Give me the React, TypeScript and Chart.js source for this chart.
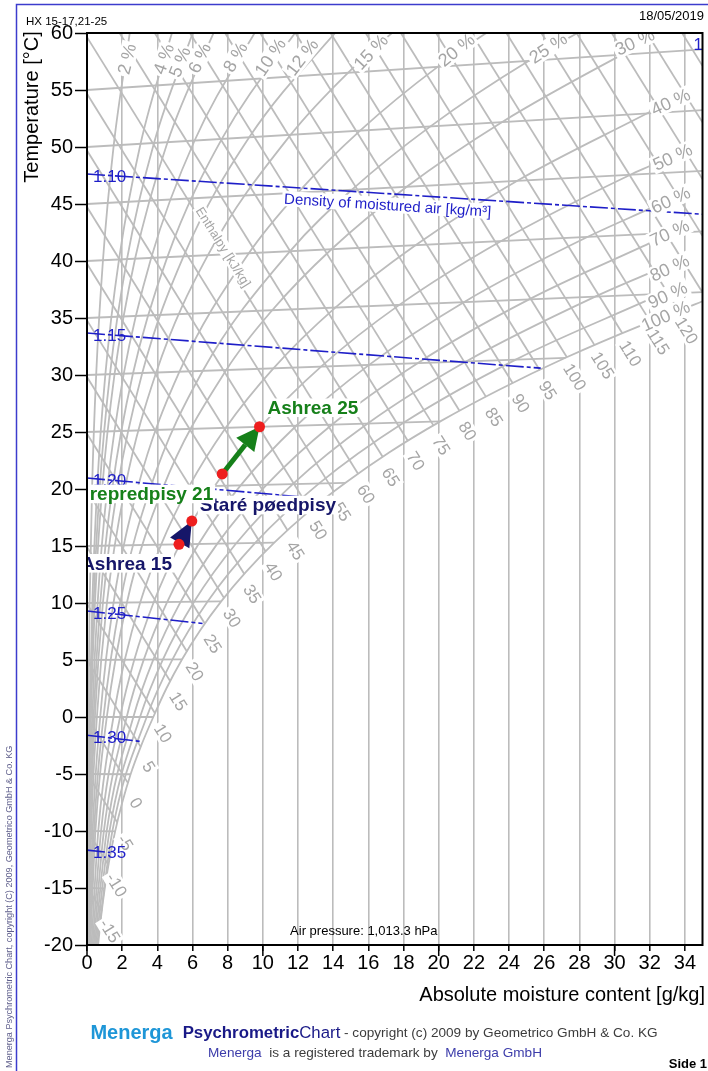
import { useEffect, useRef } from "react";
import { Chart, registerables } from "chart.js";

Chart.register(...registerables);

const FONT = "'Liberation Sans', Arial, Helvetica, sans-serif";
const GRAY = "rgb(188,188,188)";
const LABEL_GRAY = "rgb(165,165,165)";
const BLUE = "rgb(30,30,200)";
const GREEN = "rgb(22,128,26)";
const NAVY = "rgb(22,22,105)";
const RED = "rgb(238,30,30)";

// ---- axes ----
const X_TICKS = [0, 2, 4, 6, 8, 10, 12, 14, 16, 18, 20, 22, 24, 26, 28, 30, 32, 34];
const X_MAJOR_TICKS = [0, 10, 20, 30];
const Y_TICKS = [-20, -15, -10, -5, 0, 5, 10, 15, 20, 25, 30, 35, 40, 45, 50, 55, 60];

// ---- relative humidity curves: [x g/kg, y chart °C] ----
const RH_2 = [[0.013, -20], [0.032, -10], [0.075, 0], [0.151, 10], [0.287, 20.01], [0.522, 30.03], [0.908, 40.07], [1.519, 50.14], [2.456, 60.27]];
const RH_4 = [[0.025, -20], [0.064, -10], [0.15, 0], [0.302, 10.01], [0.575, 20.02], [1.044, 30.06], [1.819, 40.13], [3.045, 50.28], [4.933, 60.55]];
const RH_5 = [[0.032, -20], [0.08, -10], [0.188, 0], [0.377, 10.01], [0.719, 20.03], [1.306, 30.07], [2.275, 40.17], [3.811, 50.35], [6.178, 60.69]];
const RH_6 = [[0.038, -20], [0.096, -10], [0.225, 0], [0.453, 10.01], [0.863, 20.03], [1.568, 30.09], [2.732, 40.2], [4.579, 50.42], [7.428, 60.82]];
const RH_8 = [[0.051, -20], [0.128, -10], [0.3, 0], [0.604, 10.01], [1.151, 20.04], [2.092, 30.12], [3.648, 40.27], [6.12, 50.57], [9.944, 61.1]];
const RH_10 = [[0.063, -20], [0.16, -10], [0.375, 0], [0.755, 10.01], [1.439, 20.05], [2.617, 30.15], [4.567, 40.34], [7.669, 50.71], [12.48, 61.39]];
const RH_12 = [[0.076, -20], [0.192, -10], [0.45, 0], [0.906, 10.02], [1.728, 20.06], [3.143, 30.17], [5.488, 40.41], [9.225, 50.85], [15.04, 61.67]];
const RH_15 = [[0.095, -20], [0.239, -10], [0.563, 0], [1.133, 10.02], [2.161, 20.08], [3.934, 30.22], [6.875, 40.51], [11.58, 51.07], [14.84, 56.51], [18.91, 62.1]];
const RH_20 = [[0.126, -20], [0.319, -10.01], [0.751, 0], [1.511, 10.03], [2.885, 20.11], [5.257, 30.29], [9.201, 40.68], [12.0, 46.0], [15.53, 51.44], [19.94, 57.03], [25.47, 62.83]];
const RH_25 = [[0.158, -20.01], [0.399, -10.01], [0.939, 0], [1.89, 10.03], [3.611, 20.13], [6.585, 30.37], [11.54, 40.85], [15.07, 46.26], [19.53, 51.81], [25.13, 57.56], [32.17, 63.57]];
const RH_30 = [[0.19, -20.01], [0.479, -10.01], [1.127, 0], [2.27, 10.04], [4.338, 20.16], [7.919, 30.44], [10.53, 35.68], [13.9, 41.03], [18.18, 46.51], [23.59, 52.18], [30.41, 58.09], [32.0, 59.33]];
const RH_40 = [[0.253, -20.01], [0.639, -10.01], [1.504, 0], [2.149, 5.02], [3.03, 10.06], [4.215, 15.12], [5.797, 20.21], [7.88, 25.36], [10.6, 30.59], [14.12, 35.91], [18.68, 41.38], [24.47, 47.04], [32.0, 53.07]];
const RH_50 = [[0.316, -20.01], [0.799, -10.01], [1.881, 0], [2.688, 5.02], [3.792, 10.07], [5.278, 15.15], [7.263, 20.27], [9.881, 25.46], [13.31, 30.74], [17.76, 36.15], [23.53, 41.74], [30.9, 47.57], [32.0, 48.33]];
const RH_60 = [[0.38, -20.01], [0.959, -10.02], [2.258, 0], [3.228, 5.03], [4.556, 10.08], [6.344, 15.18], [8.736, 20.32], [11.9, 25.55], [16.04, 30.89], [21.43, 36.39], [28.45, 42.1], [32.0, 44.59]];
const RH_70 = [[0.443, -20.02], [1.119, -10.02], [2.636, 0], [3.77, 5.03], [5.322, 10.1], [7.414, 15.21], [10.22, 20.38], [13.92, 25.64], [18.8, 31.04], [25.14, 36.63], [32.0, 41.57]];
const RH_80 = [[0.506, -20.02], [1.279, -10.02], [3.015, 0], [4.312, 5.04], [6.09, 10.11], [8.487, 15.24], [11.7, 20.43], [15.96, 25.74], [21.58, 31.2], [28.9, 36.87], [32.0, 38.96]];
const RH_90 = [[0.57, -20.02], [1.44, -10.03], [3.394, 0], [4.855, 5.04], [6.859, 10.13], [9.565, 15.27], [13.2, 20.49], [18.02, 25.83], [24.38, 31.35], [32.0, 36.65]];
// saturation curve (100 %)
const RH_100 = [[0.63, -20.02], [0.8, -17.53], [1.01, -15.03], [1.27, -12.53], [1.6, -10.03], [2.0, -7.53], [2.48, -5.02], [3.08, -2.51], [3.77, 0], [4.52, 2.52], [5.4, 5.05], [6.43, 7.59], [7.63, 10.14], [9.03, 12.71], [10.65, 15.3], [12.52, 17.91], [14.7, 20.54], [17.2, 23.22], [20.09, 25.93], [23.41, 28.69], [27.21, 31.51], [31.59, 34.4], [33.58, 35.58], [35.0, 36.47]];

const RH_CURVES = [RH_2, RH_4, RH_5, RH_6, RH_8, RH_10, RH_12, RH_15, RH_20, RH_25, RH_30, RH_40, RH_50, RH_60, RH_70, RH_80, RH_90, RH_100];

// RH labels
const RH_LABELS = ["2 %", "4 %", "5 %", "6 %", "8 %", "10 %", "12 %", "15 %", "20 %", "25 %", "30 %", "40 %", "50 %", "60 %", "70 %", "80 %", "90 %", "100 %"];
const RH_LABEL_X = [2.27, 4.36, 5.27, 6.4, 8.44, 10.42, 12.23, 16.14, 21.01, 26.22, 31.15, 33.19, 33.3, 33.19, 33.13, 33.13, 33.02, 32.9];
const RH_LABEL_Y = [57.72, 57.72, 57.46, 57.81, 57.89, 57.89, 57.89, 58.33, 58.51, 58.68, 59.21, 53.95, 49.12, 45.35, 42.46, 39.39, 37.02, 35.18];
const RH_LABEL_ANGLE = [-76, -70, -68, -65, -60, -56, -52, -47, -39, -33, -25, -25, -25, -25, -25, -25, -25, -24];

// ---- isotherms: start at (0, T), end at saturation or right edge ----
const ISO_T = [-20, -15, -10, -5, 0, 5, 10, 15, 20, 25, 30, 35, 40, 45, 50, 55];
const ISO_END_X = [0.63, 1.01, 1.6, 2.48, 3.77, 5.4, 7.63, 10.65, 14.7, 20.09, 27.21, 35, 35, 35, 35, 35];
const ISO_END_Y = [-20.02, -15.03, -10.03, -5.02, 0, 5.05, 10.14, 15.3, 20.54, 25.93, 31.51, 37.27, 42.59, 47.91, 53.24, 58.56];

// ---- enthalpy lines [kJ/kg] ----
const ENTH_H = [-15, -10, -5, 0, 5, 10, 15, 20, 25, 30, 35, 40, 45, 50, 55, 60, 65, 70, 75, 80, 85, 90, 95, 100, 105, 110, 115, 120, 125, 130, 135, 140, 145];
const ENTH_X0 = [0, 0, 0, 0, 0, 0, 0, 0, 0, 0, 0, 0, 0, 0, 0, 0, 1.854, 3.854, 5.853, 7.852, 9.851, 11.85, 13.85, 15.85, 17.85, 19.85, 21.85, 23.85, 25.84, 27.84, 29.84, 31.84, 33.84];
const ENTH_Y0 = [-14.91, -9.94, -4.97, 0, 4.97, 9.94, 14.91, 19.88, 24.85, 29.82, 34.79, 39.76, 44.73, 49.7, 54.67, 59.64, 60, 60, 60, 60, 60, 60, 60, 60, 60, 60, 60, 60, 60, 60, 60, 60, 60];
const ENTH_X1 = [0.843, 1.223, 1.724, 2.332, 3.055, 3.867, 4.735, 5.683, 6.706, 7.794, 8.945, 10.16, 11.41, 12.7, 14.05, 15.42, 16.82, 18.25, 19.7, 21.19, 22.69, 24.21, 25.75, 27.28, 28.87, 30.45, 32.04, 33.64, 35, 35, 35, 35, 35];
const ENTH_Y1 = [-17.01, -12.98, -9.26, -5.8, -2.62, 0.33, 3.14, 5.75, 8.18, 10.44, 12.55, 14.51, 16.36, 18.13, 19.75, 21.31, 22.81, 24.21, 25.58, 26.84, 28.08, 29.27, 30.42, 31.58, 32.6, 33.64, 34.66, 35.65, 37.24, 42.21, 47.18, 52.16, 57.12];
const ENTH_LABEL_MAX = 120;

// ---- density lines [kg/m³] ----
const DENS_LABELS = ["1.10", "1.15", "1.20", "1.25", "1.30", "1.35"];
const DENS_X0 = [0, 0, 0, 0, 0, 0];
const DENS_Y0 = [47.63, 33.68, 20.96, 9.3, -1.6, -11.68];
const DENS_X1 = [35, 25.8, 13.3, 6.57, 3.13, 1.33];
const DENS_Y1 = [44.1, 30.6, 19.16, 8.2, -2.16, -11.89];

// ---- process points (state points) ----
const POINT_NAMES = ["Ashrea 15", "Staré pøedpisy", "repredpisy 21", "Ashrea 25"];
const POINT_X = [5.23, 5.96, 7.69, 9.81];
const POINT_Y = [15.15, 17.19, 21.32, 25.46];

function boxText(ctx: any, text: string, x: number, y: number, angle: number, font: string, size: number, color: string, align: string, bg: boolean) {
  ctx.save();
  ctx.translate(x, y);
  ctx.rotate((angle * Math.PI) / 180);
  ctx.font = font;
  const w = ctx.measureText(text).width;
  const h = size * 0.82;
  const x0 = align === "center" ? -w / 2 : align === "left" ? 0 : -w;
  if (bg) {
    ctx.fillStyle = "#fff";
    ctx.fillRect(x0 - 2, -h / 2 - 1.5, w + 4, h + 3);
  }
  ctx.fillStyle = color;
  ctx.textAlign = align;
  ctx.textBaseline = "middle";
  ctx.fillText(text, 0, 1);
  ctx.restore();
}

function drawArrow(ctx: any, x1: number, y1: number, x2: number, y2: number, color: string, shaftW: number, headLen: number, headW: number) {
  const ang = Math.atan2(y2 - y1, x2 - x1);
  const len = Math.hypot(x2 - x1, y2 - y1);
  const hl = Math.min(headLen, len);
  const bx = x2 - hl * Math.cos(ang);
  const by = y2 - hl * Math.sin(ang);
  ctx.save();
  if (len > hl) {
    ctx.strokeStyle = color;
    ctx.lineWidth = shaftW;
    ctx.beginPath();
    ctx.moveTo(x1, y1);
    ctx.lineTo(bx, by);
    ctx.stroke();
  }
  ctx.fillStyle = color;
  ctx.beginPath();
  ctx.moveTo(x2, y2);
  ctx.lineTo(bx + (headW / 2) * Math.sin(ang), by - (headW / 2) * Math.cos(ang));
  ctx.lineTo(bx - (headW / 2) * Math.sin(ang), by + (headW / 2) * Math.cos(ang));
  ctx.closePath();
  ctx.fill();
  ctx.restore();
}

const overlayPlugin = {
  id: "overlay",
  beforeDatasetDraw(chart: any, args: any) {
    if (args.index !== 0) return;
    const ctx = chart.ctx;
    const xs = chart.scales.x;
    const ys = chart.scales.y;
    const ca = chart.chartArea;
    const P = (x: number, y: number) => [xs.getPixelForValue(x), ys.getPixelForValue(y)];
    ctx.save();
    ctx.beginPath();
    ctx.rect(ca.left, ca.top, ca.right - ca.left, ca.bottom - ca.top);
    ctx.clip();

    // enthalpy labels
    ENTH_H.forEach((h, i) => {
      if (h > ENTH_LABEL_MAX) return;
      const [px, py] = P(ENTH_X1[i], ENTH_Y1[i]);
      boxText(ctx, String(h), px + 8, py + 20, 58, `17px ${FONT}`, 17, LABEL_GRAY, "center", true);
    });
    // enthalpy axis label
    {
      const [px, py] = P(7.76, 41.23);
      boxText(ctx, "Enthalpy [kJ/kg]", px, py, 58, `13px ${FONT}`, 13, LABEL_GRAY, "center", true);
    }
    // RH labels
    RH_LABELS.forEach((t, i) => {
      const [px, py] = P(RH_LABEL_X[i], RH_LABEL_Y[i]);
      boxText(ctx, t, px, py, RH_LABEL_ANGLE[i], `18px ${FONT}`, 18, LABEL_GRAY, "center", true);
    });
    // density labels
    DENS_LABELS.forEach((t, i) => {
      const [px, py] = P(DENS_X0[i], DENS_Y0[i]);
      boxText(ctx, t, px + 6, py + 2, 0, `17px ${FONT}`, 17, BLUE, "left", false);
    });
    {
      const [px, py] = P(35, 59.9);
      boxText(ctx, "1.05", px - 9, py + 10, 0, `17px ${FONT}`, 17, BLUE, "left", false);
      const [qx, qy] = P(17.1, 44.91);
      boxText(ctx, "Density of moistured air [kg/m³]", qx, qy, 3.6, `15px ${FONT}`, 15, BLUE, "center", true);
    }
    // air pressure
    {
      const [px, py] = P(15.74, -18.68);
      boxText(ctx, "Air pressure: 1,013.3 hPa", px, py, 0, `13px ${FONT}`, 13, "#000", "center", false);
    }

    // process labels
    const pts = POINT_X.map((x, i) => P(x, POINT_Y[i]));
    const bold = `bold 19px ${FONT}`;
    boxText(ctx, POINT_NAMES[1], pts[1][0] + 8, pts[1][1] - 16, 0, bold, 19, NAVY, "left", true);
    boxText(ctx, POINT_NAMES[2], pts[2][0] - 9, pts[2][1] + 20, 0, bold, 19, GREEN, "right", true);
    boxText(ctx, POINT_NAMES[0], pts[0][0] - 7, pts[0][1] + 19, 0, bold, 19, NAVY, "right", true);
    boxText(ctx, POINT_NAMES[3], pts[3][0] + 8, pts[3][1] - 19, 0, bold, 19, GREEN, "left", true);

    // arrows
    drawArrow(ctx, pts[2][0], pts[2][1], pts[3][0], pts[3][1], GREEN, 5, 23, 23);
    drawArrow(ctx, pts[0][0], pts[0][1], pts[1][0], pts[1][1], NAVY, 5, 25, 22);
    ctx.restore();
  },
  afterDraw(chart: any) {
    const ctx = chart.ctx;
    const ca = chart.chartArea;
    const xs = chart.scales.x;
    ctx.save();
    // chart frame
    ctx.strokeStyle = "#000";
    ctx.lineWidth = 2;
    ctx.strokeRect(ca.left, ca.top, ca.right - ca.left, ca.bottom - ca.top);
    // longer major ticks on x axis
    ctx.lineWidth = 1.5;
    X_MAJOR_TICKS.forEach((v) => {
      const px = xs.getPixelForValue(v);
      ctx.beginPath();
      ctx.moveTo(px, ca.bottom);
      ctx.lineTo(px, ca.bottom + 11);
      ctx.stroke();
    });

    // page frame
    ctx.strokeStyle = "rgb(60,60,205)";
    ctx.lineWidth = 1.5;
    ctx.beginPath();
    ctx.moveTo(16.5, 1071);
    ctx.lineTo(16.5, 4.5);
    ctx.lineTo(708, 4.5);
    ctx.stroke();

    ctx.fillStyle = "#000";
    ctx.textBaseline = "middle";
    // header
    ctx.font = `11.5px ${FONT}`;
    ctx.textAlign = "left";
    ctx.fillText("HX 15-17,21-25", 26, 22);
    ctx.font = `13px ${FONT}`;
    ctx.textAlign = "right";
    ctx.fillText("18/05/2019", 704, 16);

    // axis titles
    ctx.font = `20px ${FONT}`;
    ctx.textAlign = "right";
    ctx.fillText("Absolute moisture content [g/kg]", 705, 995);
    ctx.save();
    ctx.translate(32, 107);
    ctx.rotate(-Math.PI / 2);
    ctx.font = `20px ${FONT}`;
    ctx.textAlign = "center";
    ctx.fillText("Temperature [°C]", 0, 0);
    ctx.restore();

    // left vertical copyright
    ctx.save();
    ctx.translate(9, 1068);
    ctx.rotate(-Math.PI / 2);
    ctx.font = `9.1px ${FONT}`;
    ctx.fillStyle = "rgb(95,95,140)";
    ctx.textAlign = "left";
    ctx.fillText("Menerga Psychrometric Chart, copyright (C) 2009, Geometrico GmbH & Co. KG", 0, 0);
    ctx.restore();

    // footer
    const drawRuns = (runs: any[], cx: number, y: number) => {
      let total = 0;
      const ws = runs.map((r) => {
        ctx.font = r[1];
        const w = ctx.measureText(r[0]).width + r[3];
        total += w;
        return w;
      });
      let x = cx - total / 2;
      ctx.textAlign = "left";
      runs.forEach((r, i) => {
        ctx.font = r[1];
        ctx.fillStyle = r[2];
        ctx.fillText(r[0], x, y);
        x += ws[i];
      });
    };
    const runs1 = [
      ["Menerga", `bold 20px ${FONT}`, "rgb(30,150,215)", 10],
      ["Psychrometric", `bold 16.8px ${FONT}`, "rgb(25,25,135)", 0],
      ["Chart", `16.8px ${FONT}`, "rgb(25,25,135)", 0],
      [" - copyright (c) 2009 by Geometrico GmbH & Co. KG", `13.6px ${FONT}`, "rgb(60,60,60)", 0],
    ];
    drawRuns(runs1, 374, 1033);
    const runs2 = [
      ["Menerga", `13.6px ${FONT}`, "rgb(60,60,170)", 0],
      ["  is a registered trademark by  ", `13.6px ${FONT}`, "rgb(60,60,60)", 0],
      ["Menerga GmbH", `13.6px ${FONT}`, "rgb(60,60,170)", 0],
    ];
    drawRuns(runs2, 375, 1053);
    ctx.font = `bold 13px ${FONT}`;
    ctx.fillStyle = "#000";
    ctx.textAlign = "right";
    ctx.fillText("Side 1", 707, 1064);
    ctx.restore();
  },
};

export default function App() {
  const ref = useRef<HTMLCanvasElement>(null);
  useEffect(() => {
    if (!ref.current) return;
    const line = (pts: number[][], color: string, width: number, extra: any = {}) => ({
      data: pts.map(([x, y]) => ({ x, y })),
      showLine: true,
      borderColor: color,
      borderWidth: width,
      pointRadius: 0,
      pointHoverRadius: 0,
      fill: false,
      ...extra,
    });
    const datasets: any[] = [];
    // state points (index 0 -> drawn on top)
    datasets.push({
      data: POINT_X.map((x, i) => ({ x, y: POINT_Y[i] })),
      showLine: false,
      pointRadius: 5.5,
      pointBackgroundColor: RED,
      pointBorderColor: RED,
      pointBorderWidth: 0,
      clip: false,
    });
    DENS_LABELS.forEach((_, i) => {
      datasets.push(line([[DENS_X0[i], DENS_Y0[i]], [DENS_X1[i], DENS_Y1[i]]], BLUE, 1.6, { borderDash: [18, 3, 4, 3] }));
    });
    RH_CURVES.forEach((c) => datasets.push(line(c, GRAY, 1.8, { cubicInterpolationMode: "monotone" })));
    ISO_T.forEach((t, i) => datasets.push(line([[0, t], [ISO_END_X[i], ISO_END_Y[i]]], GRAY, 1.8)));
    ENTH_H.forEach((_, i) => datasets.push(line([[ENTH_X0[i], ENTH_Y0[i]], [ENTH_X1[i], ENTH_Y1[i]]], GRAY, 1.8)));

    const chart = new Chart(ref.current, {
      type: "scatter",
      data: { datasets },
      plugins: [overlayPlugin],
      options: {
        animation: false,
        responsive: false,
        devicePixelRatio: 1,
        events: [],
        layout: { padding: { left: 0, top: 33, right: 3, bottom: 86 } },
        plugins: { legend: { display: false }, tooltip: { enabled: false }, title: { display: false } },
        scales: {
          x: {
            type: "linear",
            min: 0,
            max: 35,
            afterBuildTicks: (s: any) => {
              s.ticks = X_TICKS.map((v) => ({ value: v }));
            },
            afterFit: (s: any) => {
              s.height = 40;
            },
            grid: { color: GRAY, lineWidth: 1.6, drawOnChartArea: true, tickColor: "#000", tickWidth: 1.5, tickLength: 6 },
            border: { display: false },
            ticks: { color: "#000", font: { size: 20, family: FONT }, padding: 0, maxRotation: 0, autoSkip: false },
          },
          y: {
            type: "linear",
            min: -20,
            max: 60,
            afterBuildTicks: (s: any) => {
              s.ticks = Y_TICKS.map((v) => ({ value: v }));
            },
            afterFit: (s: any) => {
              s.width = 87;
            },
            grid: { drawOnChartArea: false, tickColor: "#000", tickWidth: 1.5, tickLength: 12 },
            border: { display: false },
            ticks: { color: "#000", font: { size: 20, family: FONT }, padding: 2, autoSkip: false },
          },
        },
      } as any,
    });
    return () => chart.destroy();
  }, []);
  return (
    <div style={{ position: "absolute", left: 0, top: 0, width: 708, height: 1071, background: "#fff" }}>
      <canvas ref={ref} width={708} height={1071} style={{ display: "block", width: 708, height: 1071 }} />
    </div>
  );
}
